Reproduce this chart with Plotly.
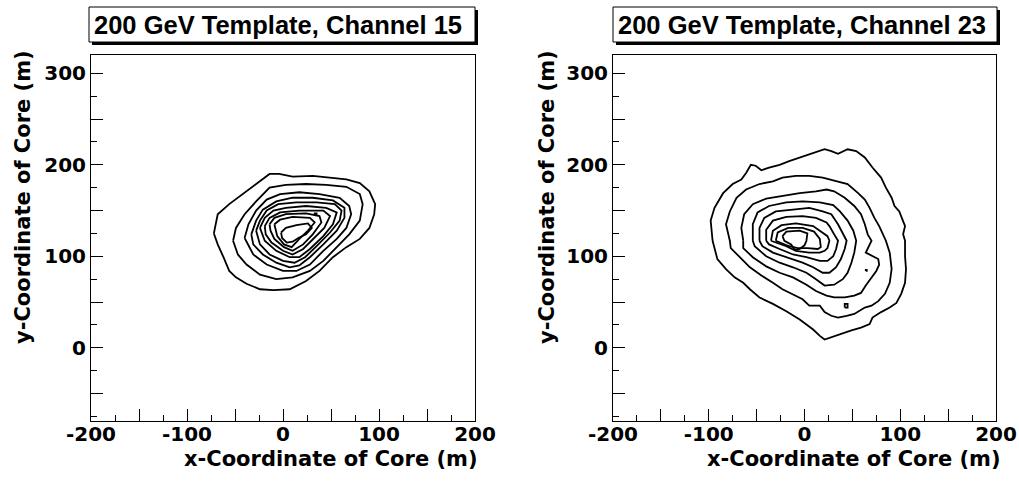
import plotly.graph_objects as go

# ---------------- data: contour rings (x, y in metres) -------------
# Channel 15 (left panel), outermost ring first
ch15_ring1 = [(-72,125),(-68,146),(-56,157),(-38,171),(-24,182),(-14,190),(-4,190),(10,187),(31,188),
              (52,186),(66,184),(80,180),(90,171),(96,157),(95,146),(90,131),(80,119),(66,110),(52,99),
              (38,84),(24,73),(7,64),(-10,63),(-24,64),(-38,70),(-49,77),(-56,84),(-62,99),(-68,113)]
ch15_ring2 = [(-52,117),(-49,131),(-40,146),(-28,160),(-14,175),(3,178),(24,179),(45,178),(66,176),
              (80,168),(83,157),(80,139),(69,124),(56,110),(42,95),(28,84),(10,77),(-7,75),(-24,80),
              (-38,91),(-47,102)]
ch15_ring3 = [(-40,120),(-36,135),(-28,150),(-17,162),(-3,168),(17,170),(38,168),(59,164),(69,155),
              (71,146),(66,131),(56,119),(42,106),(28,91),(14,84),(0,84),(-17,91),(-31,102)]
ch15_ring4 = [(-33,124),(-28,139),(-21,151),(-7,160),(10,164),(31,164),(52,161),(64,153),(64,142),
              (56,128),(42,113),(28,99),(17,90),(7,88),(-7,93),(-21,102),(-31,113)]
ch15_ring5 = [(-28,128),(-24,139),(-17,150),(-5,157),(14,159),(35,159),(54,157),(61,150),(59,139),
              (49,126),(35,111),(23,99),(12,93),(0,95),(-14,102),(-24,113)]
ch15_ring6 = [(-24,131),(-19,142),(-10,150),(3,153),(24,155),(45,153),(56,148),(52,135),(42,122),
              (28,108),(17,99),(7,99),(-7,106),(-19,117)]
ch15_ring7 = [(-19,133),(-14,142),(-3,148),(17,150),(42,150),(49,144),(43,131),(31,119),(21,108),
              (10,102),(0,106),(-12,115),(-18,124)]
ch15_ring8 = [(-14,135),(-9,142),(3,146),(24,147),(38,144),(40,137),(31,124),(21,113),(10,106),
              (1,110),(-9,119),(-13,128)]
ch15_ring9 = [(-9,135),(-3,140),(10,143),(28,142),(33,137),(26,128),(17,119),(9,110),(1,113),(-6,122)]
ch15_ring10 = [(-2,126),(3,131),(14,134),(26,136),(30,131),(24,124),(16,120),(10,116),(4,115),(-1,120)]
ch15_spot1 = [(33,145),(35,145),(35,147),(33,147)]

# Channel 23 (right panel), outermost ring first
ch23_ring1 = [(-96,117),(-98,139),(-94,153),(-85,169),(-75,179),(-66,184),(-61,191),(-56,200),(-51,199),
              (-45,194),(-37,197),(-26,200),(-16,204),(-5,208),(5,211),(16,215),(21,217),(28,215),
              (35,212),(45,217),(54,215),(63,208),(71,197),(80,186),(85,175),(91,164),(94,155),(99,149),
              (103,139),(105,133),(103,124),(105,117),(105,100),(106,86),(105,71),(101,59),(96,49),
              (89,44),(80,39),(71,33),(68,26),(59,22),(49,19),(38,15),(28,11),(21,9),(16,13),(9,20),
              (-5,31),(-19,40),(-33,48),(-47,55),(-57,64),(-64,71),(-73,77),(-82,86),(-91,97),(-94,108)]
ch23_ring2 = [(-78,117),(-82,135),(-78,149),(-71,164),(-61,173),(-47,179),(-33,182),(-23,186),(-9,188),
              (5,188),(19,186),(35,182),(45,179),(56,169),(63,162),(68,153),(73,142),(78,133),(82,124),
              (85,117),(89,104),(91,86),(89,71),(84,59),(77,51),(70,46),(63,44),(56,40),(52,37),(44,35),
              (35,33),(28,35),(21,39),(16,46),(5,46),(-2,53),(-16,60),(-23,64),(-33,71),(-45,79),(-57,88),
              (-68,99),(-77,109)]
ch23_ring3 = [(-64,117),(-66,131),(-63,146),(-54,157),(-40,163),(-23,166),(-5,169),(12,171),(23,173),
              (31,171),(42,164),(52,155),(59,146),(63,135),(66,124),(70,117),(66,108),(64,104),(77,97),
              (78,91),(75,84),(70,77),(64,68),(59,60),(52,57),(42,55),(31,55),(23,57),(12,62),(2,69),
              (-12,77),(-26,82),(-40,89),(-54,99),(-64,109)]
ch23_ring4 = [(-54,117),(-54,135),(-49,148),(-37,155),(-19,159),(-2,160),(16,159),(24,157),(30,156),
              (37,149),(45,139),(51,128),(54,117),(52,104),(49,93),(45,82),(40,75),(31,69),(21,68),
              (12,75),(2,82),(-12,88),(-26,93),(-40,100),(-52,111)]
ch23_ring5 = [(-47,117),(-47,131),(-42,142),(-30,149),(-12,151),(5,153),(19,149),(28,146),(35,135),
              (40,124),(44,117),(42,108),(38,97),(33,88),(26,82),(19,82),(9,88),(-2,93),(-19,99),
              (-33,104),(-44,111)]
ch23_ring6 = [(-40,117),(-40,129),(-33,139),(-19,143),(-2,144),(12,142),(23,137),(26,133),(31,124),
              (35,117),(33,108),(30,100),(24,95),(16,95),(2,99),(-12,102),(-26,108),(-37,113)]
ch23_ring7 = [(-35,117),(-33,128),(-24,134),(-9,136),(9,133),(19,126),(24,122),(26,117),(24,109),
              (21,106),(16,104),(5,104),(-9,106),(-19,111),(-30,115)]
ch23_ring8 = [(-30,117),(-28,126),(-17,131),(-2,131),(10,127),(16,119),(17,110),(14,108),(3,109),
              (-7,109),(-16,111),(-24,114)]
ch23_ring9 = [(-23,122),(-19,127),(-5,128),(3,125),(2,117),(0,112),(-5,108),(-10,107),(-14,113),(-21,117)]
ch23_spot1 = [(42,44),(45,44),(45,48),(42,48)]
ch23_spot2 = [(64,84),(65,84),(65,85),(64,85)]

panel_titles = ["200 GeV Template, Channel 15", "200 GeV Template, Channel 23"]
x_title = "x-Coordinate of Core (m)"
y_title = "y-Coordinate of Core (m)"
x_tick_vals = [-200, -150, -100, -50, 0, 50, 100, 150, 200]
x_tick_text = ["-200", "", "-100", "", "0", "", "100", "", "200"]
y_tick_vals = [-50, 0, 50, 100, 150, 200, 250, 300]
y_tick_text = ["", "0", "", "100", "", "200", "", "300"]

ch15_rings = [ch15_ring1, ch15_ring2, ch15_ring3, ch15_ring4, ch15_ring5, ch15_ring6,
              ch15_ring7, ch15_ring8, ch15_ring9, ch15_ring10, ch15_spot1]
ch23_rings = [ch23_ring1, ch23_ring2, ch23_ring3, ch23_ring4, ch23_ring5, ch23_ring6,
              ch23_ring7, ch23_ring8, ch23_ring9, ch23_spot1, ch23_spot2]

# ---------------- figure -------------
W, H = 1019, 481
def px(x):
    return x / W
def py(y):
    return 1 - y / H

fig = go.Figure()

for rings, xa, ya in [(ch15_rings, "x", "y"), (ch23_rings, "x2", "y2")]:
    for ring in rings:
        xs = [p[0] for p in ring] + [ring[0][0]]
        ys = [p[1] for p in ring] + [ring[0][1]]
        fig.add_trace(go.Scatter(x=xs, y=ys, mode="lines", xaxis=xa, yaxis=ya,
                                 line=dict(color="black", width=1.8), showlegend=False,
                                 hoverinfo="skip"))

tickfont = dict(family="DejaVu Sans", size=20, color="black", weight="bold")
common_x = dict(range=[-200, 200], tickmode="array", tickvals=x_tick_vals, ticktext=x_tick_text,
                ticks="inside", ticklen=12, tickwidth=1, tickcolor="black",
                minor=dict(ticks="inside", ticklen=6, tickwidth=1, tickcolor="black",
                           tickmode="linear", tick0=-200, dtick=25, showgrid=False),
                showline=True, linecolor="black", linewidth=1, mirror=True,
                showgrid=False, zeroline=False, tickfont=tickfont, fixedrange=True,
                automargin=False, ticklabelstandoff=-5)
common_y = dict(range=[-80, 320], tickmode="array", tickvals=y_tick_vals, ticktext=y_tick_text,
                ticks="inside", ticklen=12, tickwidth=1, tickcolor="black",
                minor=dict(ticks="inside", ticklen=6, tickwidth=1, tickcolor="black",
                           tickmode="linear", tick0=-75, dtick=25, showgrid=False),
                showline=True, linecolor="black", linewidth=1, mirror=True,
                showgrid=False, zeroline=False, tickfont=tickfont, fixedrange=True,
                automargin=False)

y_dom = [py(421), py(55)]
fig.update_layout(
    width=W, height=H,
    margin=dict(l=0, r=0, t=0, b=0, autoexpand=False),
    paper_bgcolor="white", plot_bgcolor="white",
    xaxis=dict(common_x, domain=[px(91), px(475)], anchor="y"),
    yaxis=dict(common_y, domain=y_dom, anchor="x"),
    xaxis2=dict(common_x, domain=[px(613), px(996)], anchor="y2"),
    yaxis2=dict(common_y, domain=y_dom, anchor="x2"),
)

shapes = []
annotations = []
for i, (bx0, bx1, ax_right, ylab_x) in enumerate([(89, 475, 480, 23), (613, 997, 1003, 547)]):
    # drop shadow + title box
    shapes.append(dict(type="rect", xref="paper", yref="paper",
                       x0=px(bx0 + 3), x1=px(bx1 + 3), y0=py(45), y1=py(10),
                       fillcolor="black", line=dict(width=0), layer="above"))
    shapes.append(dict(type="rect", xref="paper", yref="paper",
                       x0=px(bx0), x1=px(bx1), y0=py(42), y1=py(7),
                       fillcolor="white", line=dict(color="black", width=1), layer="above"))
    annotations.append(dict(text=panel_titles[i], xref="paper", yref="paper",
                            x=px(bx0 + 3), y=py(25), xanchor="left", yanchor="middle",
                            showarrow=False,
                            font=dict(family="Liberation Sans", size=25.5, color="black", weight="bold")))
    annotations.append(dict(text=x_title, xref="paper", yref="paper",
                            x=px(ax_right), y=py(459), xanchor="right", yanchor="middle",
                            showarrow=False,
                            font=dict(family="DejaVu Sans", size=21, color="black", weight="bold")))
    annotations.append(dict(text=y_title, xref="paper", yref="paper", textangle=-90,
                            x=px(ylab_x), y=py(48), xanchor="center", yanchor="top",
                            showarrow=False,
                            font=dict(family="DejaVu Sans", size=21, color="black", weight="bold")))

fig.update_layout(shapes=shapes, annotations=annotations)
fig.write_html("out.html",
               config={"displayModeBar": False},
               post_script="document.body.style.margin='0px';document.body.style.padding='0px';")
